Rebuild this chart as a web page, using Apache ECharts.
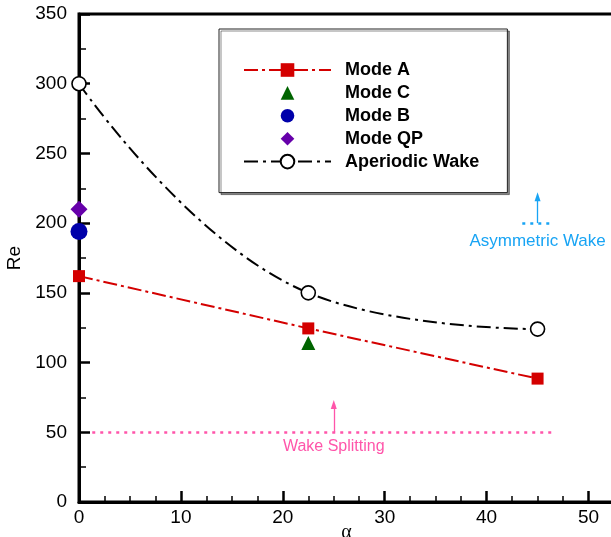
<!DOCTYPE html>
<html>
<head>
<meta charset="utf-8">
<script src="https://cdn.jsdelivr.net/npm/echarts@6/dist/echarts.min.js"></script>
<style>html,body{margin:0;padding:0;background:#fff;}#c{width:611px;height:537px;}</style>
</head>
<body>
<div id="c"></div>
<script>
// ---- data ----
const alpha = [0, 22.5, 45];
const modeA = [162, 124.5, 88.5];
const aperiodic = [300, 150, 124];
const modeC = [[22.5, 114]];
const modeB = [[0, 194]];
const modeQP = [[0, 210]];
const xTicks = [0, 10, 20, 30, 40, 50];
const yTicks = [0, 50, 100, 150, 200, 250, 300, 350];
// annotations: [Wake Splitting, Asymmetric Wake]
const annoNames = ['Wake Splitting', 'Asymmetric Wake'];
const annoLevel = [50, 200];
const annoFrom = [1.3, 43.5];
const annoTo = [46.7, 46.4];
const annoArrowX = [25, 45];
const annoArrowTip = [70, 219];
const annoTextRe = [39.6, 187];

const pink = '#ff55aa', sky = '#18a4f4';
const annoColors = [pink, sky];
const annoFont = [16, 17];
const FONT = 'Liberation Sans';

const markLines = [];
const markPoints = [];
annoNames.forEach((n, i) => {
  markLines.push([
    {coord: [annoFrom[i], annoLevel[i]], symbol: 'none', lineStyle: {color: annoColors[i], type: [3, 5], width: 2.5}},
    {coord: [annoTo[i], annoLevel[i]], symbol: 'none'}
  ]);
  markLines.push([
    {coord: [annoArrowX[i], annoLevel[i]], symbol: 'none', lineStyle: {color: annoColors[i], type: 'solid', width: 1.3}},
    {coord: [annoArrowX[i], annoArrowTip[i]], symbol: 'triangle', symbolSize: [6, 9]}
  ]);
  markPoints.push({
    coord: [annoArrowX[i], annoTextRe[i]], symbol: 'circle', symbolSize: 0,
    label: {show: true, position: 'inside', formatter: n, color: annoColors[i], fontSize: annoFont[i], fontFamily: FONT}
  });
});

function pointSeries(name, data, symbol, size, color) {
  return {
    name: name, type: 'line', z: 4, data: data, symbol: symbol, symbolSize: size,
    itemStyle: {color: color, opacity: 1},
    lineStyle: {width: 0, opacity: 0}
  };
}

const chart = echarts.init(document.getElementById('c'), null, {renderer: 'canvas'});
chart.setOption({
  animation: false,
  backgroundColor: '#fff',
  grid: {left: 79, top: 14, right: -3, bottom: 35, show: true, borderColor: '#000', borderWidth: 3,
    backgroundColor: 'transparent', containLabel: false, outerBoundsMode: 'none'},
  legend: {
    orient: 'vertical', left: 219, top: 29,
    data: ['Mode A', 'Mode C', 'Mode B', 'Mode QP', 'Aperiodic Wake'],
    itemWidth: 87, itemHeight: 17, itemGap: 4.9, symbolKeepAspect: true,
    padding: [32, 28, 22, 24],
    backgroundColor: '#fff', borderColor: '#222', borderWidth: 1,
    shadowColor: 'rgba(0,0,0,0.45)', shadowOffsetX: 2, shadowOffsetY: 2, shadowBlur: 0,
    textStyle: {fontSize: 18, fontWeight: 'bold', fontFamily: FONT, color: '#000', lineHeight: 18, padding: [0, 0, 0, 9]}
  },
  xAxis: {
    type: 'value', min: 0, max: 52.5, interval: 10,
    name: 'α', nameLocation: 'middle', nameGap: 21, nameMoveOverlap: false,
    nameTextStyle: {fontSize: 20, fontFamily: 'Liberation Serif', color: '#000', verticalAlign: 'top'},
    axisLine: {lineStyle: {color: '#000', width: 3}},
    axisTick: {inside: true, length: 11, lineStyle: {color: '#000', width: 2.5}},
    minorTick: {show: true, splitNumber: 4, length: 6, lineStyle: {color: '#000', width: 1.5}},
    splitLine: {show: false},
    axisLabel: {fontSize: 19, fontFamily: FONT, color: '#000', margin: 6,
      formatter: v => xTicks.indexOf(v) >= 0 ? String(v) : ''}
  },
  yAxis: {
    type: 'value', min: 0, max: 350, interval: 50,
    name: 'Re', nameLocation: 'middle', nameGap: 49,
    nameTextStyle: {fontSize: 19, fontFamily: FONT, color: '#000'},
    axisLine: {lineStyle: {color: '#000', width: 3}},
    axisTick: {inside: true, length: 11, lineStyle: {color: '#000', width: 2.5}},
    minorTick: {show: true, splitNumber: 2, length: 7, lineStyle: {color: '#000', width: 1.5}},
    splitLine: {show: false},
    axisLabel: {fontSize: 19, fontFamily: FONT, color: '#000', margin: 12,
      formatter: v => yTicks.indexOf(v) >= 0 ? String(v) : ''}
  },
  series: [
    {
      name: 'annotations', type: 'line', data: [], silent: true,
      markLine: {silent: true, symbol: 'none', label: {show: false}, data: markLines},
      markPoint: {silent: true, data: markPoints}
    },
    {
      name: 'Mode A', type: 'line', z: 3,
      data: alpha.map((a, i) => [a, modeA[i]]),
      symbol: 'rect', symbolSize: 12,
      itemStyle: {color: '#d40000'},
      lineStyle: {color: '#d40000', width: 2, type: [14, 4, 3, 4]}
    },
    {
      name: 'Aperiodic Wake', type: 'line', z: 3, smooth: 0.45,
      data: alpha.map((a, i) => [a, aperiodic[i]]),
      symbol: 'circle', symbolSize: 14,
      itemStyle: {color: '#fff', borderColor: '#000', borderWidth: 1.6},
      lineStyle: {color: '#000', width: 2, type: [14, 5, 3, 5]}
    },
    pointSeries('Mode C', modeC, 'triangle', 14, '#006400'),
    pointSeries('Mode B', modeB, 'circle', 17, '#0000aa'),
    pointSeries('Mode QP', modeQP, 'diamond', 17, '#6600aa')
  ]
});
</script>
</body>
</html>
